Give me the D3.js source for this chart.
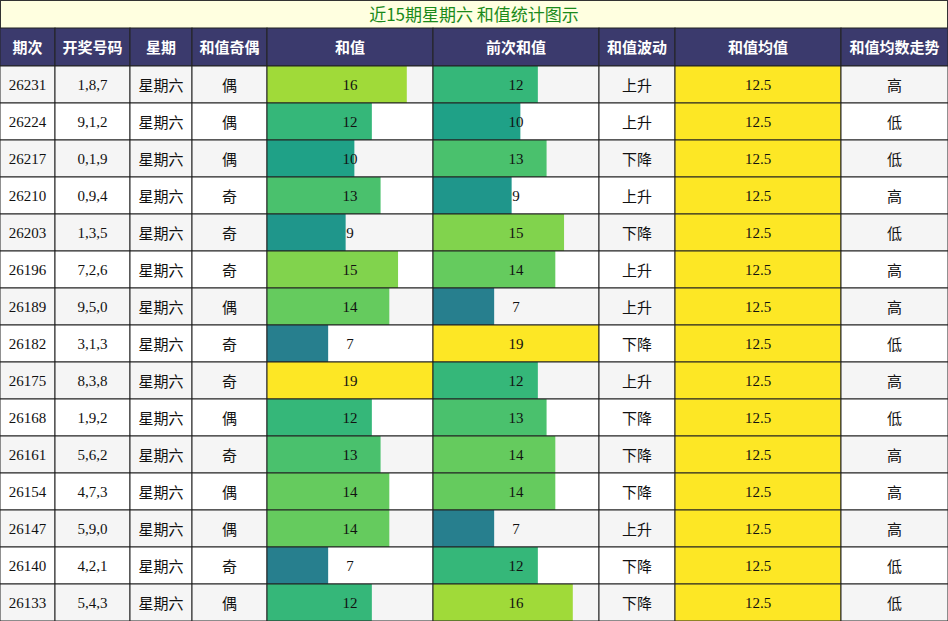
<!DOCTYPE html><html><head><meta charset="utf-8"><script src="https://cdn.jsdelivr.net/npm/d3@7"></script>
<style>body{margin:0;background:#fff}</style></head><body><svg id="c" width="948" height="621"></svg>
<script>
const headers=["期次","开奖号码","星期","和值奇偶","和值","前次和值","和值波动","和值均值","和值均数走势"];
const periods=["26231","26224","26217","26210","26203","26196","26189","26182","26175","26168","26161","26154","26147","26140","26133"];
const numbers=["1,8,7","9,1,2","0,1,9","0,9,4","1,3,5","7,2,6","9,5,0","3,1,3","8,3,8","1,9,2","5,6,2","4,7,3","5,9,0","4,2,1","5,4,3"];
const sums=[16,12,10,13,9,15,14,7,19,12,13,14,14,7,12];
const prevSums=[12,10,13,9,15,14,7,19,12,13,14,14,7,12,16];
const parity=["偶","偶","偶","奇","奇","奇","偶","奇","奇","偶","奇","偶","偶","奇","偶"];
const trend=["上升","上升","下降","上升","下降","上升","上升","下降","上升","下降","下降","下降","上升","下降","下降"];
const meanVals=Array(15).fill(12.5);
const meanTrend=["高","低","低","高","低","高","高","低","高","低","高","高","高","低","低"];
const cols=[0,55,130,192,267,433,599,675,841,948];
const svg=d3.select("#c");
const y=d3.scaleBand().domain(d3.range(15)).range([66,621]);
const color=d3.scaleSequential(d3.interpolateViridis).domain([-2,19]);
const serif="'Liberation Serif',serif", sans="'Noto Sans CJK SC',sans-serif";
svg.append("rect").attr("x",0.5).attr("y",0.5).attr("width",947).attr("height",28).attr("fill","#ffffe0").attr("stroke","#333");
svg.append("text").attr("x",474).attr("y",21).attr("text-anchor","middle").attr("font-family",sans).attr("font-size",17).attr("fill","#1a8a1a").text("近15期星期六 和值统计图示");
headers.forEach((h,i)=>{
 svg.append("rect").attr("x",cols[i]).attr("y",28).attr("width",cols[i+1]-cols[i]).attr("height",38).attr("fill","#3b3a6d").attr("stroke","#222");
 svg.append("text").attr("x",(cols[i]+cols[i+1])/2).attr("y",53).attr("text-anchor","middle").attr("font-family",sans).attr("font-weight","bold").attr("font-size",15).attr("fill","#fff").text(h);
});
d3.range(15).forEach(r=>{
 const y0=y(r),h=y.bandwidth(),bg=r%2==0?"#f5f5f5":"#ffffff";
 const texts=[[periods[r],serif],[numbers[r],serif],["星期六",sans],[parity[r],sans],[sums[r],serif],[prevSums[r],serif],[trend[r],sans],[meanVals[r],serif],[meanTrend[r],sans]];
 texts.forEach((t,i)=>{
  const x0=cols[i],w=cols[i+1]-x0;
  svg.append("rect").attr("x",x0).attr("y",y0).attr("width",w).attr("height",h).attr("fill",i==7?"#fde725":bg);
  if(i==4||i==5){const v=i==4?sums[r]:prevSums[r];
   const xs=d3.scaleLinear().domain([0,19]).range([0,w]);
   svg.append("rect").attr("x",x0).attr("y",y0).attr("width",xs(v)).attr("height",h).attr("fill",color(v));}
  svg.append("rect").attr("x",x0).attr("y",y0).attr("width",w).attr("height",h).attr("fill","none").attr("stroke","#222").attr("stroke-width",1);
  svg.append("text").attr("x",x0+w/2).attr("y",y0+h/2+(t[1]==sans?6:5)).attr("text-anchor","middle").attr("font-family",t[1]).attr("font-size",15).attr("fill","#111").text(t[0]);
 });
});
</script></body></html>
